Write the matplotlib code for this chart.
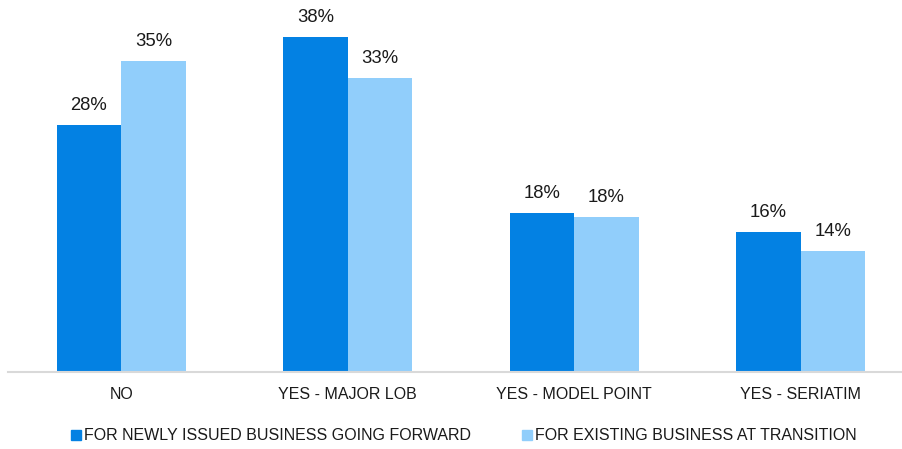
import numpy as np
import matplotlib.pyplot as plt
from matplotlib.patches import Patch

plt.rcParams['font.family'] = ['Liberation Sans', 'DejaVu Sans']

categories = ['NO', 'YES - MAJOR LOB', 'YES - MODEL POINT', 'YES - SERIATIM']
series_names = ['FOR NEWLY ISSUED BUSINESS GOING FORWARD',
                'FOR EXISTING BUSINESS AT TRANSITION']
newly_issued = [28.0, 38.0, 18.0, 15.9]
existing = [35.3, 33.3, 17.6, 13.7]

dark = '#0381E3'
light = '#91CEFB'

fig = plt.figure(figsize=(9.02, 4.49), dpi=100)
ax = fig.add_axes([8/902, 1 - 372/449, (914-8)/902, 372/449])

x = np.arange(len(categories))
w = 0.285
b1 = ax.bar(x - w/2, newly_issued, w, color=dark)
b2 = ax.bar(x + w/2, existing, w, color=light)

for bars, vals in ((b1, newly_issued), (b2, existing)):
    for bar, v in zip(bars, vals):
        ax.annotate('%d%%' % round(v), (bar.get_x() + bar.get_width()/2, v),
                    xytext=(0, 8), textcoords='offset points',
                    ha='center', va='bottom', fontsize=13.3, color='#1a1a1a')

ax.set_xlim(-0.5, 3.5)
ax.set_ylim(0, 42.2)
ax.set_yticks([])
ax.set_xticks(x)
ax.set_xticklabels(categories, fontsize=11.5, color='#1a1a1a')
ax.tick_params(axis='x', length=0, pad=11)
for s in ['top', 'right', 'left']:
    ax.spines[s].set_visible(False)
ax.spines['bottom'].set_color('#D9D9D9')
ax.spines['bottom'].set_linewidth(1.5)

handles = [Patch(color=dark), Patch(color=light)]
fig.legend(handles, series_names, loc='center', bbox_to_anchor=(464/902, 1 - 436/449),
           ncol=2, frameon=False, fontsize=11.5, handlelength=0.6, handleheight=0.6,
           handletextpad=0.2, columnspacing=3.2, labelcolor='#1a1a1a')

fig.savefig('out.png', dpi=100)
